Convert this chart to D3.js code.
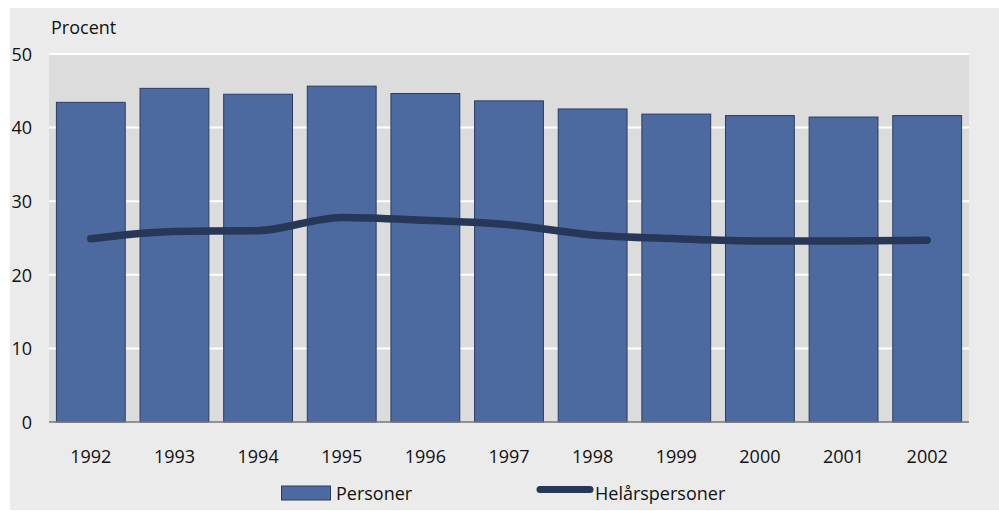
<!DOCTYPE html>
<html>
<head>
<meta charset="utf-8">
<script src="https://cdn.jsdelivr.net/npm/d3@7"></script>
<style>
  html, body { margin: 0; padding: 0; background: #fff; }
  svg text { font-family: "Open Sans", "Noto Sans", sans-serif; fill: #111; }
</style>
</head>
<body>
<div id="chart"></div>
<script>
const WIDTH = 999;
const HEIGHT = 511;

// data
const years = ["1992", "1993", "1994", "1995", "1996", "1997", "1998", "1999", "2000", "2001", "2002"];
const personer = [43.5, 45.4, 44.6, 45.7, 44.7, 43.7, 42.6, 41.9, 41.7, 41.5, 41.7];
const helarspersoner = [24.9, 25.9, 26.0, 27.8, 27.4, 26.8, 25.4, 24.9, 24.6, 24.6, 24.7];
const yTicks = [0, 10, 20, 30, 40, 50];
const legendLabels = ["Personer", "Helårspersoner"];

const colors = { outer: "#ebebeb", plot: "#dcdcdc", bar: "#4d6aa0", barEdge: "#2c3c5e", line: "#263758", axis: "#777" };
const FONT = 18;

const plot = { left: 49, right: 969, top: 54, bottom: 422 };

let svg = d3.select("#chart").append("svg")
  .attr("width", WIDTH)
  .attr("height", HEIGHT);

// backgrounds
svg.append("rect")
  .attr("x", 10).attr("y", 8)
  .attr("width", WIDTH - 10).attr("height", HEIGHT - 9)
  .attr("fill", colors.outer);

svg.append("rect")
  .attr("x", plot.left).attr("y", plot.top)
  .attr("width", plot.right - plot.left).attr("height", plot.bottom - plot.top)
  .attr("fill", colors.plot);

let xscale = d3.scaleBand()
  .domain(years)
  .range([plot.left, plot.right])
  .paddingInner(0.165)
  .paddingOuter(0.0825);

let yscale = d3.scaleLinear()
  .domain([0, 50])
  .range([plot.bottom, plot.top]);

// gridlines
svg.append("g")
  .selectAll("line")
  .data(yTicks.filter(d => d > 0))
  .join("line")
  .attr("x1", plot.left).attr("x2", plot.right)
  .attr("y1", d => yscale(d)).attr("y2", d => yscale(d))
  .attr("stroke", "#fff")
  .attr("stroke-width", 2);

// bars
svg.append("g")
  .selectAll("rect")
  .data(years)
  .join("rect")
  .attr("x", d => xscale(d) + 0.5)
  .attr("y", (d, i) => yscale(personer[i]) + 0.5)
  .attr("width", xscale.bandwidth() - 1)
  .attr("height", (d, i) => yscale(0) - yscale(personer[i]) - 0.5)
  .attr("fill", colors.bar)
  .attr("stroke", colors.barEdge)
  .attr("stroke-width", 1);

// baseline
svg.append("line")
  .attr("x1", plot.left).attr("x2", plot.right)
  .attr("y1", yscale(0)).attr("y2", yscale(0))
  .attr("stroke", colors.axis)
  .attr("stroke-width", 1.5);

// line series
let line = d3.line()
  .x((d, i) => xscale(years[i]) + xscale.bandwidth() / 2)
  .y(d => yscale(d))
  .curve(d3.curveMonotoneX);

svg.append("path")
  .datum(helarspersoner)
  .attr("d", line)
  .attr("fill", "none")
  .attr("stroke", colors.line)
  .attr("stroke-width", 7.5)
  .attr("stroke-linecap", "round")
  .attr("stroke-linejoin", "round");

// y axis labels
let y_axis = d3.axisLeft(yscale).tickValues(yTicks).tickSize(0).tickPadding(0);
let gy = svg.append("g")
  .attr("transform", "translate(32,0)")
  .call(y_axis);
gy.select(".domain").remove();
gy.selectAll("text")
  .attr("font-size", FONT)
  .attr("dy", "0.35em")
  .attr("fill", "#111")
  .style("font-family", "'Open Sans', sans-serif");

// x axis labels
let x_axis = d3.axisBottom(xscale).tickSize(0).tickPadding(0);
let gx = svg.append("g")
  .attr("transform", "translate(0,463)")
  .call(x_axis);
gx.select(".domain").remove();
gx.selectAll("text")
  .attr("font-size", FONT)
  .attr("dy", 0)
  .attr("y", 0)
  .attr("fill", "#111")
  .style("font-family", "'Open Sans', sans-serif");

// unit label
svg.append("text")
  .attr("x", 51).attr("y", 34)
  .attr("font-size", FONT)
  .text("Procent");

// legend
svg.append("rect")
  .attr("x", 281.5).attr("y", 486)
  .attr("width", 49).attr("height", 14)
  .attr("fill", colors.bar)
  .attr("stroke", colors.barEdge)
  .attr("stroke-width", 1);
svg.append("text")
  .attr("x", 336).attr("y", 500)
  .attr("font-size", FONT)
  .text(legendLabels[0]);

svg.append("line")
  .attr("x1", 540).attr("x2", 590)
  .attr("y1", 489.5).attr("y2", 489.5)
  .attr("stroke", colors.line)
  .attr("stroke-width", 7)
  .attr("stroke-linecap", "round");
svg.append("text")
  .attr("x", 595).attr("y", 500)
  .attr("font-size", FONT)
  .text(legendLabels[1]);
</script>
</body>
</html>
